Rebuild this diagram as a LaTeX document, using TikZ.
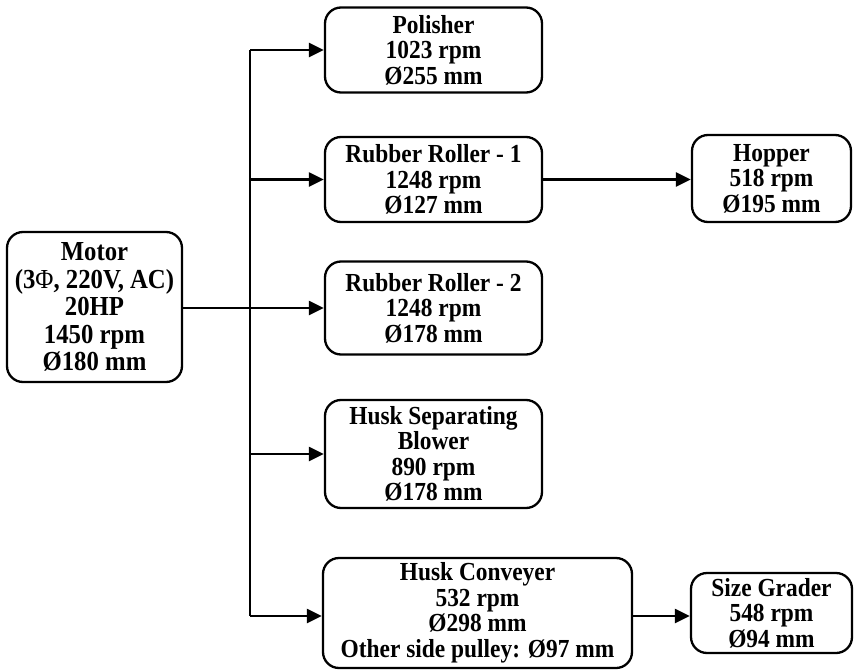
\documentclass[tikz,border=0pt]{standalone}
\usepackage{fontspec}
\setmainfont[FakeStretch=0.9]{Liberation Serif}
\usetikzlibrary{arrows.meta}
\begin{document}
\begin{tikzpicture}[x=1pt,y=-1pt,
  box/.style={draw,line width=2.3pt,rounded corners=16pt,inner sep=0pt,align=center,
    font=\fontsize{26}{25.5}\selectfont\bfseries},
  conn/.style={line width=2.3pt,-{Triangle[length=15pt,width=14pt]}},
  wire/.style={line width=2.3pt}]
\useasboundingbox (0,0) rectangle (855,672);
\node[box,minimum width=175pt,minimum height=150pt,font=\fontsize{27.5}{27.5}\selectfont\bfseries] (motor) at (94.5,307) {Motor\\({3\mdseries Φ}, 220V, AC)\\20HP\\1450 rpm\\Ø180 mm};
\node[box,minimum width=217pt,minimum height=85pt] (pol) at (433.5,50) {Polisher\\1023 rpm\\Ø255 mm};
\node[box,minimum width=217pt,minimum height=85pt] (rr1) at (433.5,179.5) {Rubber Roller - 1\\1248 rpm\\Ø127 mm};
\node[box,minimum width=159pt,minimum height=87pt] (hop) at (771.5,178.5) {Hopper\\518 rpm\\Ø195 mm};
\node[box,minimum width=217pt,minimum height=93pt] (rr2) at (433.5,308) {Rubber Roller - 2\\1248 rpm\\Ø178 mm};
\node[box,minimum width=217pt,minimum height=108pt] (hsb) at (433.5,454) {Husk Separating\\Blower\\890 rpm\\Ø178 mm};
\node[box,minimum width=309pt,minimum height=110pt] (hc) at (477.5,613) {Husk Conveyer\\532 rpm\\Ø298 mm\\Other side pulley: Ø97 mm};
\node[box,minimum width=161pt,minimum height=80pt] (sg) at (771.5,613) {Size Grader\\548 rpm\\Ø94 mm};
\coordinate (top) at (250,50);
\coordinate (bot) at (250,616);
\coordinate (mid) at (250,308);
\draw[wire] (motor.east |- mid) -- (mid);
\draw[wire] (top) -- (bot);
\draw[conn] (top) -- (pol.west);
\draw[conn] (250,179.5) -- (rr1.west);
\draw[conn] (mid) -- (rr2.west);
\draw[conn] (250,454) -- (hsb.west);
\draw[conn] (bot) -- (bot -| hc.west);
\draw[conn] (rr1.east) -- (rr1.east -| hop.west);
\draw[conn] (hc.east |- bot) -- (bot -| sg.west);
\end{tikzpicture}
\end{document}
